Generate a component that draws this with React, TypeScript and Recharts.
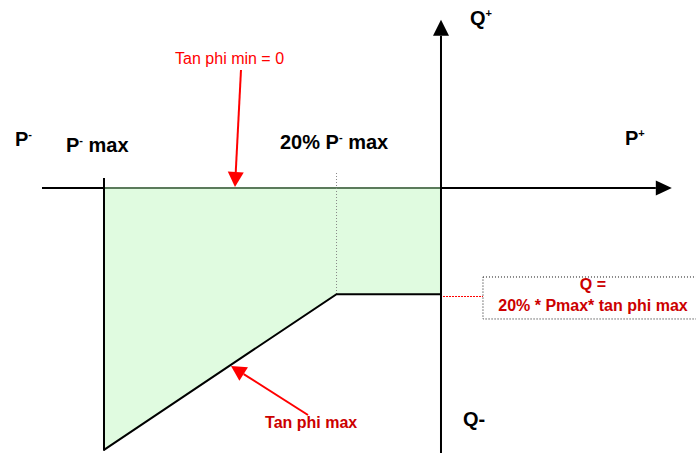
import {
  ComposedChart,
  Area,
  Line,
  XAxis,
  YAxis,
  ReferenceLine,
  ReferenceArea,
  ReferenceDot,
} from 'recharts';

// ─── Data (P and Q in % of Pmax) ─────────────────────────────────────────────

const P_BREAKS = [-100, -31, 0];
const Q_LOWER = [-77.7, -31.5, -31.5];
const Q_UPPER = [0, 0, 0];

// lower outline of the capability region: tan phi max slope, then flat 20% part
const EDGE_P = [-100, -31, 0];
const EDGE_Q = [-77.7, -31.5, -31.5];

const X_DOMAIN: [number, number] = [-130.86, 75.67];
const Y_DOMAIN: [number, number] = [-78.64, 55.79];

const FONT = '"Liberation Sans", Arial, sans-serif';
const RED = '#ff0000';
const DARK_RED = '#cc0000';

// ─── Shapes ──────────────────────────────────────────────────────────────────

function arrow(color: string, width: number, headLen: number, headHalf: number) {
  return (props: any) => {
    const { x1, y1, x2, y2 } = props;
    const dx = x2 - x1;
    const dy = y2 - y1;
    const len = Math.hypot(dx, dy) || 1;
    const ux = dx / len;
    const uy = dy / len;
    const bx = x2 - ux * headLen;
    const by = y2 - uy * headLen;
    const px = -uy * headHalf;
    const py = ux * headHalf;
    return (
      <g>
        <line x1={x1} y1={y1} x2={bx} y2={by} stroke={color} strokeWidth={width} />
        <polygon points={`${x2},${y2} ${bx + px},${by + py} ${bx - px},${by - py}`} fill={color} />
      </g>
    );
  };
}

function txt(content: React.ReactNode, opts: { size?: number; bold?: boolean; fill?: string; anchor?: string } = {}) {
  const { size = 20, bold = true, fill = '#000', anchor = 'start' } = opts;
  return (props: any) => (
    <text
      x={props.cx}
      y={props.cy}
      fontFamily={FONT}
      fontSize={size}
      fontWeight={bold ? 'bold' : 'normal'}
      fill={fill}
      textAnchor={anchor}
    >
      {content}
    </text>
  );
}

// base letter with a small raised sign, optionally followed by more text
const sup = (base: string, s: string, rest?: string) => (
  <>
    <tspan>{base}</tspan>
    <tspan dy={-8} fontSize={11}>{s}</tspan>
    {rest ? <tspan dy={8}>{rest}</tspan> : null}
  </>
);

// ─── Component ───────────────────────────────────────────────────────────────

export default function App() {
  const region = P_BREAKS.map((p, i) => ({ p, band: [Q_LOWER[i], Q_UPPER[i]] }));
  const edge = EDGE_P.map((p, i) => ({ p, q: EDGE_Q[i] }));

  return (
    <div style={{ position: 'absolute', left: 0, top: 0, width: 696, height: 453, background: '#fff' }}>
      <ComposedChart width={696} height={453} data={region} margin={{ top: 0, right: 0, bottom: 0, left: 0 }}>
        <XAxis type="number" dataKey="p" domain={X_DOMAIN} allowDataOverflow hide />
        <YAxis type="number" domain={Y_DOMAIN} allowDataOverflow hide />

        <Area
          type="linear"
          dataKey="band"
          fill="#e0fbe0"
          fillOpacity={1}
          stroke="none"
          dot={false}
          activeDot={false}
          isAnimationActive={false}
        />

        {/* axes */}
        <ReferenceLine
          segment={[{ x: -118.4, y: 0 }, { x: 68.5, y: 0 }]}
          shape={arrow('#000', 2, 16, 7.5)}
        />
        <ReferenceLine segment={[{ x: -100, y: 0 }, { x: 0, y: 0 }]} stroke="#5b7b5b" strokeWidth={2} />
        <ReferenceLine
          segment={[{ x: 0, y: -78.64 }, { x: 0, y: 49.9 }]}
          shape={arrow('#000', 2, 16, 8)}
        />

        {/* Pmax edge */}
        <ReferenceLine
          segment={[{ x: -100, y: 3 }, { x: -100, y: -78 }]}
          stroke="#000"
          strokeWidth={2}
        />

        {/* 20% Pmax marker */}
        <ReferenceLine
          segment={[{ x: -31, y: 4.45 }, { x: -31, y: -31.5 }]}
          stroke="#888"
          strokeWidth={1}
          strokeDasharray="1 2"
        />

        <Line
          data={edge}
          type="linear"
          dataKey="q"
          stroke="#000"
          strokeWidth={2}
          dot={false}
          activeDot={false}
          isAnimationActive={false}
        />

        {/* annotations */}
        <ReferenceLine
          segment={[{ x: -59.35, y: 35.0 }, { x: -61.13, y: 0.3 }]}
          shape={arrow(RED, 2, 15, 8)}
        />
        <ReferenceLine
          segment={[{ x: -39.47, y: -67.36 }, { x: -62.31, y: -52.82 }]}
          shape={arrow(RED, 2, 15, 8)}
        />
        <ReferenceLine
          segment={[{ x: 0.6, y: -32.2 }, { x: 12.46, y: -32.2 }]}
          stroke={RED}
          strokeWidth={1}
          strokeDasharray="2 1"
        />
        <ReferenceArea
          x1={12.46}
          x2={76.2}
          y1={-38.87}
          y2={-26.41}
          fill="none"
          fillOpacity={0}
          stroke="#111"
          strokeWidth={1}
          strokeDasharray="1 2"
          ifOverflow="visible"
        />

        {/* labels */}
        <ReferenceDot x={-126.4} y={12.46} shape={txt(sup('P', '-'))} />
        <ReferenceDot x={-111.3} y={10.68} shape={txt(sup('P', '-', ' max'))} />
        <ReferenceDot x={-47.77} y={11.57} shape={txt(sup('20% P', '-', ' max'))} />
        <ReferenceDot x={8.6} y={48.4} shape={txt(sup('Q', '+'))} />
        <ReferenceDot x={54.6} y={12.76} shape={txt(sup('P', '+'))} />
        <ReferenceDot x={6.53} y={-70.6} shape={txt('Q-')} />
        <ReferenceDot
          x={-78.9}
          y={36.8}
          shape={txt('Tan phi min = 0', { size: 16, bold: false, fill: RED })}
        />
        <ReferenceDot x={-52.2} y={-71.2} shape={txt('Tan phi max', { size: 16, fill: DARK_RED })} />
        <ReferenceDot x={45.1} y={-30.27} shape={txt('Q =', { size: 16, fill: DARK_RED, anchor: 'middle' })} />
        <ReferenceDot
          x={45.1}
          y={-36.5}
          shape={txt('20% * Pmax* tan phi max', { size: 16, fill: DARK_RED, anchor: 'middle' })}
        />
      </ComposedChart>
    </div>
  );
}
